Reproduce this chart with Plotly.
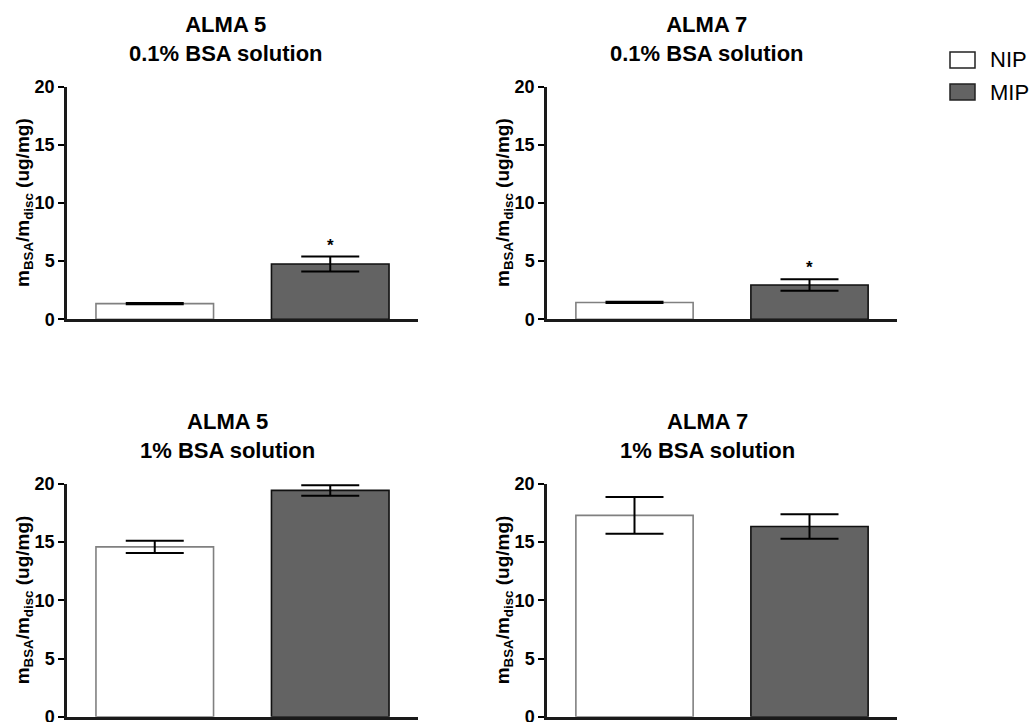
import plotly.graph_objects as go

# ---- data ----
groups = ["NIP", "MIP"]
panel_titles = ["ALMA 5<br>0.1% BSA solution", "ALMA 7<br>0.1% BSA solution",
                "ALMA 5<br>1% BSA solution", "ALMA 7<br>1% BSA solution"]
nip_mean = [1.35, 1.45, 14.6, 17.3]
nip_err = [0.05, 0.05, 0.53, 1.58]
mip_mean = [4.75, 2.95, 19.45, 16.35]
mip_err = [0.65, 0.5, 0.45, 1.05]
significance = ["*", "*", "", ""]
y_ticks = [0, 5, 10, 15, 20]
y_tick_labels = ["0", "5", "10", "15", "20"]

W, H = 1030, 722
FONT = "Liberation Sans, Arial, sans-serif"

# panel geometry (pixels)
x_doms_px = [(67, 418), (547, 897), (67, 418), (547, 897)]
y_doms_px = [(86.7, 319.3), (86.7, 319.3), (484, 716.7), (484, 716.7)]
title_cx_px = [226, 707, 227, 707]
title_cy_px = [39.5, 39.5, 436.5, 436.5]

fig = go.Figure()
layout_axes = {}
annotations = []

for i in range(4):
    n = i + 1
    xa = "x" if n == 1 else f"x{n}"
    ya = "y" if n == 1 else f"y{n}"
    fig.add_trace(go.Bar(
        x=groups, y=[nip_mean[i], mip_mean[i]],
        width=0.67,
        marker=dict(color=["white", "#636363"],
                    line=dict(color=["#808080", "#111111"], width=1.6)),
        error_y=dict(type="data", array=[nip_err[i], mip_err[i]],
                     color="black", thickness=2, width=29),
        xaxis=xa, yaxis=ya, showlegend=False,
    ))
    x0, x1 = x_doms_px[i]
    yt, yb = y_doms_px[i]
    layout_axes["xaxis" if n == 1 else f"xaxis{n}"] = dict(
        domain=[x0 / W, x1 / W], range=[-0.5, 1.5], anchor=ya,
        showticklabels=False, ticks="", showgrid=False, zeroline=False,
        showline=True, linecolor="#1a1a1a", linewidth=2.5,
        type="category", automargin=False,
    )
    layout_axes["yaxis" if n == 1 else f"yaxis{n}"] = dict(
        domain=[1 - yb / H, 1 - yt / H], range=[0, 20], anchor=xa,
        tickvals=y_ticks, ticktext=[f"<b>{t}</b>" for t in y_tick_labels],
        ticks="outside", ticklen=6, tickwidth=2,
        tickcolor="black", showgrid=False, zeroline=False,
        showline=True, linecolor="#1a1a1a", linewidth=2.5, automargin=False,
        ticklabeloverflow="allow",
        tickfont=dict(family=FONT, size=18, color="black"),
    )
    # panel title
    annotations.append(dict(
        text="<b>" + panel_titles[i].replace("<br>", "</b><br><b>") + "</b>",
        xref="paper", yref="paper",
        x=title_cx_px[i] / W, y=1 - title_cy_px[i] / H,
        xanchor="center", yanchor="middle", showarrow=False,
        font=dict(family=FONT, size=22, color="black"),
    ))
    # y-axis title
    annotations.append(dict(
        text="<b>m<sub>BSA</sub>/m<sub>disc</sub> (ug/mg)</b>", xref="paper", yref="paper",
        x=(x0 - 43) / W, y=1 - (yt + yb) / 2 / H, textangle=-90,
        xanchor="center", yanchor="middle", showarrow=False,
        font=dict(family=FONT, size=19, color="black"),
    ))
    if significance[i]:
        annotations.append(dict(
            text="<b>" + significance[i] + "</b>", xref=xa, yref=ya,
            x=groups[1], y=mip_mean[i] + mip_err[i],
            xanchor="center", yanchor="bottom", yshift=0, showarrow=False,
            font=dict(family=FONT, size=17, color="black"),
        ))

# legend (drawn)
legend_items = [("NIP", "white", "#222222", 60), ("MIP", "#636363", "#222222", 92)]
shapes = []
for name, fill, edge, yc in legend_items:
    shapes.append(dict(type="rect", xref="paper", yref="paper",
                       x0=950 / W, x1=975 / W, y0=1 - (yc + 8) / H, y1=1 - (yc - 8) / H,
                       fillcolor=fill, line=dict(color=edge, width=1.5)))
    annotations.append(dict(text=name, xref="paper", yref="paper",
                            x=988 / W, y=1 - yc / H, xanchor="left", yanchor="middle",
                            showarrow=False,
                            font=dict(family=FONT, size=22, color="black")))

fig.update_layout(
    width=W, height=H, margin=dict(l=0, r=0, t=0, b=0, autoexpand=False),
    paper_bgcolor="white", plot_bgcolor="white",
    annotations=annotations, shapes=shapes, showlegend=False,
    **layout_axes,
)

fig.write_html("out.html")
